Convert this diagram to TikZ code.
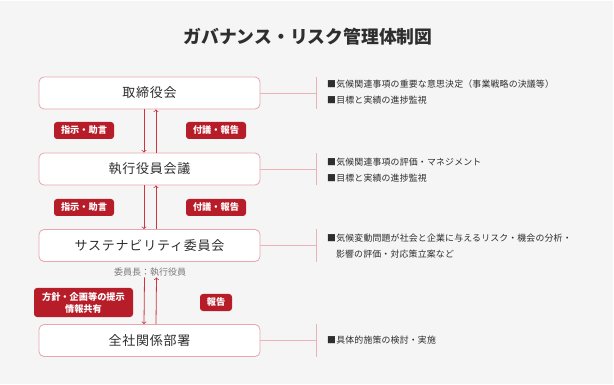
\documentclass[tikz,border=0pt]{standalone}
\usepackage{fontspec}
\setmainfont{Noto Sans CJK JP}
\newfontfamily\boxfont[LetterSpace=6]{Noto Sans CJK JP}
\newfontfamily\notefont[LetterSpace=2]{Noto Sans CJK JP}
\usepackage{xcolor}
\usepackage{tikz}
\usetikzlibrary{positioning}

\definecolor{bgray}{HTML}{F5F5F5}
\definecolor{boxline}{HTML}{E8A7AD}
\definecolor{connline}{HTML}{E9B3B7}
\definecolor{arrred}{HTML}{CC3541}
\definecolor{tagred}{HTML}{B61D29}
\definecolor{txtdark}{HTML}{2E2E2E}
\definecolor{txtgray}{HTML}{7A7A7A}

\tikzset{
	orgbox/.style={draw=boxline, line width=0.8pt, fill=white, rounded corners=5pt,
		minimum width=221pt, minimum height=32pt, inner sep=0pt,
		font=\boxfont\fontsize{13}{15}\selectfont, text=txtdark},
	tag/.style={fill=tagred, rounded corners=3pt, text=white, inner sep=0pt,
		minimum height=17pt, font=\fontsize{9.2}{11}\selectfont\bfseries, align=center},
	note/.style={anchor=west, align=left, inner sep=0pt, text=txtdark,
		font=\notefont\fontsize{8.9}{16}\selectfont},
	conn/.style={draw=connline, line width=0.7pt},
	flow/.style={draw=arrred, line width=0.8pt, -to}
}

\begin{document}
\begin{tikzpicture}[x=1pt, y=-1pt]
		\useasboundingbox (0,0) rectangle (614,385);
		\fill[bgray] (0,1) rectangle (613,384);
		
		\node[font=\fontsize{17.8}{20}\selectfont\bfseries, text=txtdark] (title) at (308,37) {ガバナンス・リスク管理体制図};
		
		\node[orgbox] (b1) at (149.5,93) {取締役会};
		\node[orgbox] (b2) at (149.5,169) {執行役員会議};
		\node[orgbox] (b3) at (149.5,245.5) {サステナビリティ委員会};
		\node[orgbox] (b4) at (149.5,340.5) {全社関係部署};
		\node[font=\fontsize{9}{11}\selectfont, text=txtgray, inner sep=1pt] (chair) at (150,272) {委員長：執行役員};
		
		% arrows between the bodies
		\draw[flow] ([xshift=-5.5pt]b1.south) -- ([xshift=-5.5pt]b2.north);
		\draw[flow] ([xshift=6.5pt]b2.north) -- ([xshift=6.5pt]b1.south);
		\draw[flow] ([xshift=-5.5pt]b2.south) -- ([xshift=-5.5pt]b3.north);
		\draw[flow] ([xshift=6.5pt]b3.north) -- ([xshift=6.5pt]b2.south);
		\draw[flow] ([xshift=-5.5pt]chair.south) -- ([xshift=-5.5pt]b4.north);
		\draw[flow] ([xshift=6.5pt]b4.north) -- ([xshift=6.5pt]chair.south);
		
		\foreach \y/\n in {130.5/1, 207.5/2}{
			\node[tag, minimum width=60pt] (down\n) at (84,\y) {指示・助言};
			\node[tag, minimum width=60pt] (up\n) at (216,\y) {付議・報告};
		}
		\node[tag, minimum width=99pt, minimum height=29pt, font=\fontsize{9.2}{12}\selectfont\bfseries] (down3) at (83.5,302.5) {方針・企画等の提示\\情報共有};
		\node[tag, minimum width=32pt] (up3) at (216,302.5) {報告};
		
		% role notes on the right
		\foreach \b in {b1,b2,b3,b4}{
			\coordinate (bar-\b) at (316,0);
			\draw[conn] (\b.east) -- (\b.east -| bar-\b);
			\draw[conn] (\b.north -| bar-\b) -- (\b.south -| bar-\b);
		}
		\node[note] (n1) at (327,92) {■気候関連事項の重要な意思決定（事業戦略の決議等）\\■目標と実績の進捗監視};
		\node[note] (n2) at (327,170) {■気候関連事項の評価・マネジメント\\■目標と実績の進捗監視};
		\node[note] (n3) at (327,246) {■気候変動問題が社会と企業に与えるリスク・機会の分析・\\\hspace*{1em}影響の評価・対応策立案など};
		\node[note] (n4) at (327,340.5) {■具体的施策の検討・実施};
	\end{tikzpicture}
\end{document}
